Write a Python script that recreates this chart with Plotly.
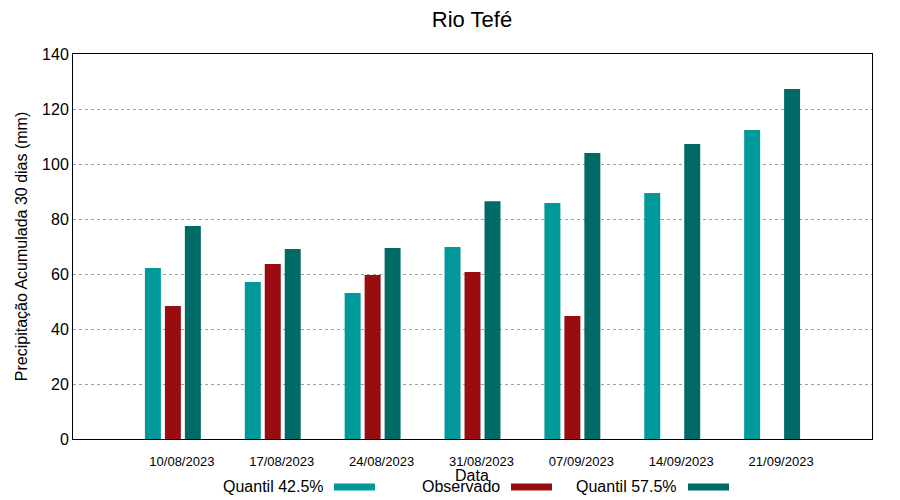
import plotly.graph_objects as go

datas = ["10/08/2023", "17/08/2023", "24/08/2023", "31/08/2023", "07/09/2023", "14/09/2023", "21/09/2023"]
quantil_425 = [62.2, 57.1, 53.1, 69.8, 85.8, 89.5, 112.4]
observado = [48.4, 63.6, 59.6, 60.7, 44.7, None, None]
quantil_575 = [77.5, 69.1, 69.5, 86.5, 104.0, 107.3, 127.3]

x = list(range(len(datas)))
FONT = "Liberation Sans, Arial, sans-serif"
c1, c2, c3 = "#009999", "#990d10", "#006a66"

fig = go.Figure()
fig.add_trace(go.Bar(x=x, y=quantil_425, name="Quantil 42.5%", marker_color=c1, marker_line_width=0, showlegend=False))
fig.add_trace(go.Bar(x=x, y=observado, name="Observado", marker_color=c2, marker_line_width=0, showlegend=False))
fig.add_trace(go.Bar(x=x, y=quantil_575, name="Quantil 57.5%", marker_color=c3, marker_line_width=0, showlegend=False))

# page body has an 8px margin; compensate so the plot area lands at 73..872 x 54..439
fig.update_layout(
    width=900, height=500,
    margin=dict(l=65, r=36, t=46, b=69, autoexpand=False),
    paper_bgcolor="white", plot_bgcolor="white",
    barmode="group", bargap=0.4, bargroupgap=0.2,
    font=dict(family=FONT, color="black"),
    title=dict(text="Rio Tefé", x=464 / 900, xanchor="center", y=1 - 11 / 500, yanchor="middle",
               font=dict(size=22, family=FONT, color="black")),
)
fig.update_xaxes(
    range=[-1, 7], tickvals=[i + 0.09 for i in x], ticktext=datas,
    tickfont=dict(size=13), showgrid=False, zeroline=False, automargin=False,
    showline=True, linecolor="black", linewidth=1, mirror=True, ticks="",
    ticklabelstandoff=10,
)
fig.update_yaxes(
    range=[0, 140], tickvals=[0, 20, 40, 60, 80, 100, 120, 140], automargin=False,
    tickfont=dict(size=16), showgrid=True, gridcolor="#a0a0a0", griddash="dot", gridwidth=1,
    zeroline=False, showline=True, linecolor="black", linewidth=1, mirror=True,
    ticks="", title=dict(text="Precipitação Acumulada 30 dias (mm)", font=dict(size=16), standoff=10),
)

# X axis title
fig.add_annotation(text="Data", xref="paper", yref="paper", x=(472 - 73) / 799, y=(439 - 475) / 385,
                   showarrow=False, font=dict(size=16), xanchor="center", yanchor="middle")

# Legend (gnuplot style: text then swatch)
legend_items = [("Quantil 42.5%", c1, 326, 334), ("Observado", c2, 502, 511), ("Quantil 57.5%", c3, 679, 688)]
for name, col, tx, sx in legend_items:
    fig.add_annotation(text=name, xref="paper", yref="paper", x=(tx - 73) / 799, y=(439 - 486) / 385,
                       showarrow=False, font=dict(size=16), xanchor="right", yanchor="middle")
    fig.add_shape(type="rect", xref="paper", yref="paper",
                  x0=(sx - 73) / 799, x1=(sx + 41 - 73) / 799,
                  y0=(439 - 490.5) / 385, y1=(439 - 483.5) / 385,
                  fillcolor=col, line_width=0)

fig.write_html("out.html")
